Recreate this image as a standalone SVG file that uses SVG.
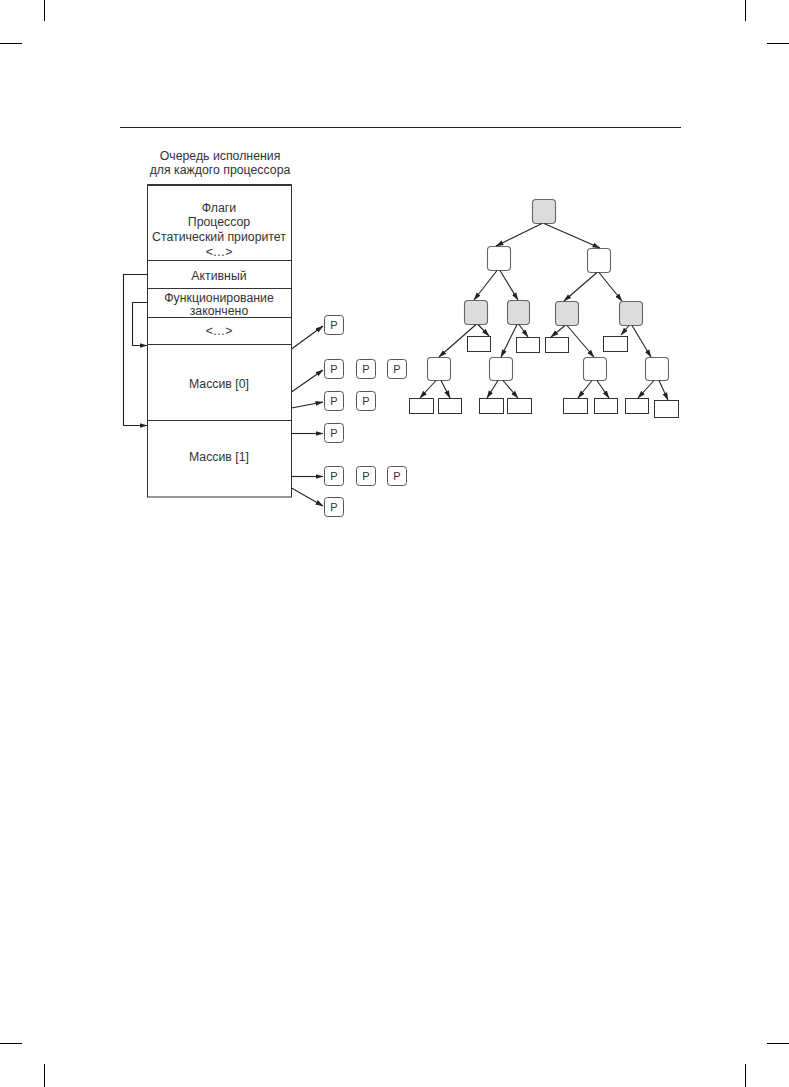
<svg xmlns="http://www.w3.org/2000/svg" width="789" height="1087" viewBox="0 0 789 1087">
<style>
text{font-family:"Liberation Sans",Arial,sans-serif;font-size:12.3px;fill:#333;text-anchor:middle}
.crop{stroke:#000;stroke-width:1}
.cell{fill:#fff;stroke:#333;stroke-width:1}
.p{fill:#fff;stroke:#555;stroke-width:1}
.g{fill:#dcdcdc;stroke:#666;stroke-width:1.1}
.w{fill:#fff;stroke:#666;stroke-width:1.1}
.leaf{fill:#fff;stroke:#333;stroke-width:1}
.c{stroke:#222;stroke-width:1.1;fill:none;marker-end:url(#ah)}
.pt{font-size:11px}
</style>
<defs>
<marker id="ah" markerWidth="8" markerHeight="6" refX="7.5" refY="3" orient="auto" markerUnits="userSpaceOnUse">
<path d="M0,0.5 L8,3 L0,5.5 Z" fill="#222"/>
</marker>
</defs>
<rect width="789" height="1087" fill="#fff"/>
<g id="cropmarks">
<line class="crop" x1="44.5" y1="0" x2="44.5" y2="21"/>
<line class="crop" x1="0" y1="43.5" x2="22" y2="43.5"/>
<line class="crop" x1="745.5" y1="0" x2="745.5" y2="21"/>
<line class="crop" x1="767" y1="43.5" x2="789" y2="43.5"/>
<line class="crop" x1="0" y1="1043.5" x2="22" y2="1043.5"/>
<line class="crop" x1="44.5" y1="1064" x2="44.5" y2="1087"/>
<line class="crop" x1="767" y1="1043.5" x2="789" y2="1043.5"/>
<line class="crop" x1="745.5" y1="1064" x2="745.5" y2="1087"/>
</g>
<line id="rule" x1="120" y1="127.5" x2="681" y2="127.5" stroke="#222" stroke-width="1.2"/>
<g id="title">
<text x="220" y="160">Очередь исполнения</text>
<text x="220" y="174">для каждого процессора</text>
</g>
<g id="table">
<rect class="cell" x="147.5" y="185" width="144" height="312"/>
<line x1="147.5" y1="185" x2="291.5" y2="185" stroke="#333" stroke-width="2"/>
<line x1="147.5" y1="260.5" x2="291.5" y2="260.5" stroke="#333"/>
<line x1="147.5" y1="288.5" x2="291.5" y2="288.5" stroke="#333"/>
<line x1="147.5" y1="317.5" x2="291.5" y2="317.5" stroke="#333"/>
<line x1="147.5" y1="344.5" x2="291.5" y2="344.5" stroke="#333"/>
<line x1="147.5" y1="420.5" x2="291.5" y2="420.5" stroke="#333"/>
<g id="cell-header">
<text x="219" y="212">Флаги</text>
<text x="219" y="226">Процессор</text>
<text x="219" y="241">Статический приоритет</text>
<text x="219" y="256" font-size="10">&lt;…&gt;</text>
</g>
<g id="cell-active"><text x="219" y="280">Активный</text></g>
<g id="cell-done"><text x="219" y="302">Функционирование</text><text x="219" y="315">закончено</text></g>
<g id="cell-etc"><text x="219" y="335" font-size="10">&lt;…&gt;</text></g>
<g id="cell-arr0"><text x="219" y="388">Массив [0]</text></g>
<g id="cell-arr1"><text x="219" y="461">Массив [1]</text></g>
</g>
<g id="p-nodes">
<g id="p1"><rect class="p" x="324.5" y="315.5" width="19" height="19" rx="3"/><text class="pt" x="334" y="329">P</text></g>
<g id="p2"><rect class="p" x="324.5" y="359.5" width="19" height="19" rx="3"/><text class="pt" x="334" y="373">P</text></g>
<g id="p3"><rect class="p" x="356.5" y="359.5" width="19" height="19" rx="3"/><text class="pt" x="366" y="373">P</text></g>
<g id="p4"><rect class="p" x="387.5" y="359.5" width="19" height="19" rx="3"/><text class="pt" x="397" y="373">P</text></g>
<g id="p5"><rect class="p" x="324.5" y="391.5" width="19" height="19" rx="3"/><text class="pt" x="334" y="405">P</text></g>
<g id="p6"><rect class="p" x="356.5" y="391.5" width="19" height="19" rx="3"/><text class="pt" x="366" y="405">P</text></g>
<g id="p7"><rect class="p" x="324.5" y="423.5" width="19" height="19" rx="3"/><text class="pt" x="334" y="437">P</text></g>
<g id="p8"><rect class="p" x="324.5" y="466.5" width="19" height="19" rx="3"/><text class="pt" x="334" y="480">P</text></g>
<g id="p9"><rect class="p" x="356.5" y="466.5" width="19" height="19" rx="3"/><text class="pt" x="366" y="480">P</text></g>
<g id="p10"><rect class="p" x="387.5" y="466.5" width="19" height="19" rx="3"/><text class="pt" x="397" y="480">P</text></g>
<g id="p11"><rect class="p" x="324.5" y="497.5" width="19" height="19" rx="3"/><text class="pt" x="334" y="511">P</text></g>
</g>
<g id="tree-nodes">
<rect id="n-root" class="g" x="532.5" y="199.5" width="23" height="24" rx="3.5"/>
<rect id="n-l" class="w" x="487.5" y="246.5" width="23" height="24" rx="3.5"/>
<rect id="n-r" class="w" x="587.5" y="248.5" width="23" height="24" rx="3.5"/>
<rect id="n-ll" class="g" x="464.5" y="300.5" width="23" height="24" rx="3.5"/>
<rect id="n-lr" class="g" x="507.5" y="300.5" width="22" height="24" rx="3.5"/>
<rect id="n-rl" class="g" x="555.5" y="301.5" width="23" height="24" rx="3.5"/>
<rect id="n-rr" class="g" x="619.5" y="301.5" width="23" height="24" rx="3.5"/>
<rect id="leaf-1" class="leaf" x="467.5" y="336.5" width="23" height="15"/>
<rect id="leaf-2" class="leaf" x="516.5" y="337.5" width="23" height="15"/>
<rect id="leaf-3" class="leaf" x="545.5" y="337.5" width="23" height="15"/>
<rect id="leaf-4" class="leaf" x="603.5" y="336.5" width="24" height="15"/>
<rect id="n-a" class="w" x="427.5" y="357.5" width="23" height="23" rx="3.5"/>
<rect id="n-b" class="w" x="489.5" y="357.5" width="23" height="23" rx="3.5"/>
<rect id="n-c" class="w" x="583.5" y="357.5" width="23" height="23" rx="3.5"/>
<rect id="n-d" class="w" x="645.5" y="357.5" width="23" height="23" rx="3.5"/>
<rect id="leaf-5" class="leaf" x="409.5" y="398.5" width="24" height="15"/>
<rect id="leaf-6" class="leaf" x="438.5" y="398.5" width="23" height="15"/>
<rect id="leaf-7" class="leaf" x="479.5" y="398.5" width="24" height="15"/>
<rect id="leaf-8" class="leaf" x="507.5" y="398.5" width="24" height="15"/>
<rect id="leaf-9" class="leaf" x="563.5" y="398.5" width="24" height="15"/>
<rect id="leaf-10" class="leaf" x="594.5" y="398.5" width="23" height="15"/>
<rect id="leaf-11" class="leaf" x="625.5" y="398.5" width="23" height="15"/>
<rect id="leaf-12" class="leaf" x="654.5" y="400.5" width="24" height="17"/>
</g>
<g id="connectors">
<polyline class="c" points="147,274.5 123.5,274.5 123.5,425.5 147,425.5"/>
<polyline class="c" points="147,302.5 132.5,302.5 132.5,345.5 147,345.5"/>
<line class="c" x1="291.5" y1="349" x2="323" y2="326"/>
<line class="c" x1="291.5" y1="392" x2="323" y2="370"/>
<line class="c" x1="291.5" y1="408" x2="323" y2="402"/>
<line class="c" x1="291.5" y1="433.5" x2="323" y2="433.5"/>
<line class="c" x1="291.5" y1="476.5" x2="323" y2="476.5"/>
<line class="c" x1="291.5" y1="488" x2="323" y2="506"/>
<line class="c" x1="542" y1="223.5" x2="496" y2="246"/>
<line class="c" x1="544" y1="223.5" x2="600" y2="248"/>
<line class="c" x1="497" y1="270.5" x2="474" y2="300"/>
<line class="c" x1="500" y1="270.5" x2="518" y2="300"/>
<line class="c" x1="597" y1="272.5" x2="564" y2="301"/>
<line class="c" x1="599" y1="272.5" x2="622" y2="301"/>
<line class="c" x1="476" y1="324.5" x2="439" y2="357"/>
<line class="c" x1="478" y1="324.5" x2="489" y2="336"/>
<line class="c" x1="517" y1="324.5" x2="501" y2="357"/>
<line class="c" x1="519" y1="324.5" x2="528" y2="337"/>
<line class="c" x1="565" y1="325.5" x2="551" y2="337"/>
<line class="c" x1="567" y1="325.5" x2="594" y2="357"/>
<line class="c" x1="629" y1="325.5" x2="621" y2="335"/>
<line class="c" x1="632" y1="325.5" x2="651" y2="357"/>
<line class="c" x1="436" y1="380.5" x2="420" y2="398"/>
<line class="c" x1="441" y1="380.5" x2="450" y2="398"/>
<line class="c" x1="498" y1="380.5" x2="487" y2="398"/>
<line class="c" x1="503" y1="380.5" x2="518" y2="398"/>
<line class="c" x1="592" y1="380.5" x2="578" y2="398"/>
<line class="c" x1="597" y1="380.5" x2="609" y2="398"/>
<line class="c" x1="654" y1="380.5" x2="638" y2="398"/>
<line class="c" x1="659" y1="380.5" x2="668" y2="400"/>
</g>
</svg>
